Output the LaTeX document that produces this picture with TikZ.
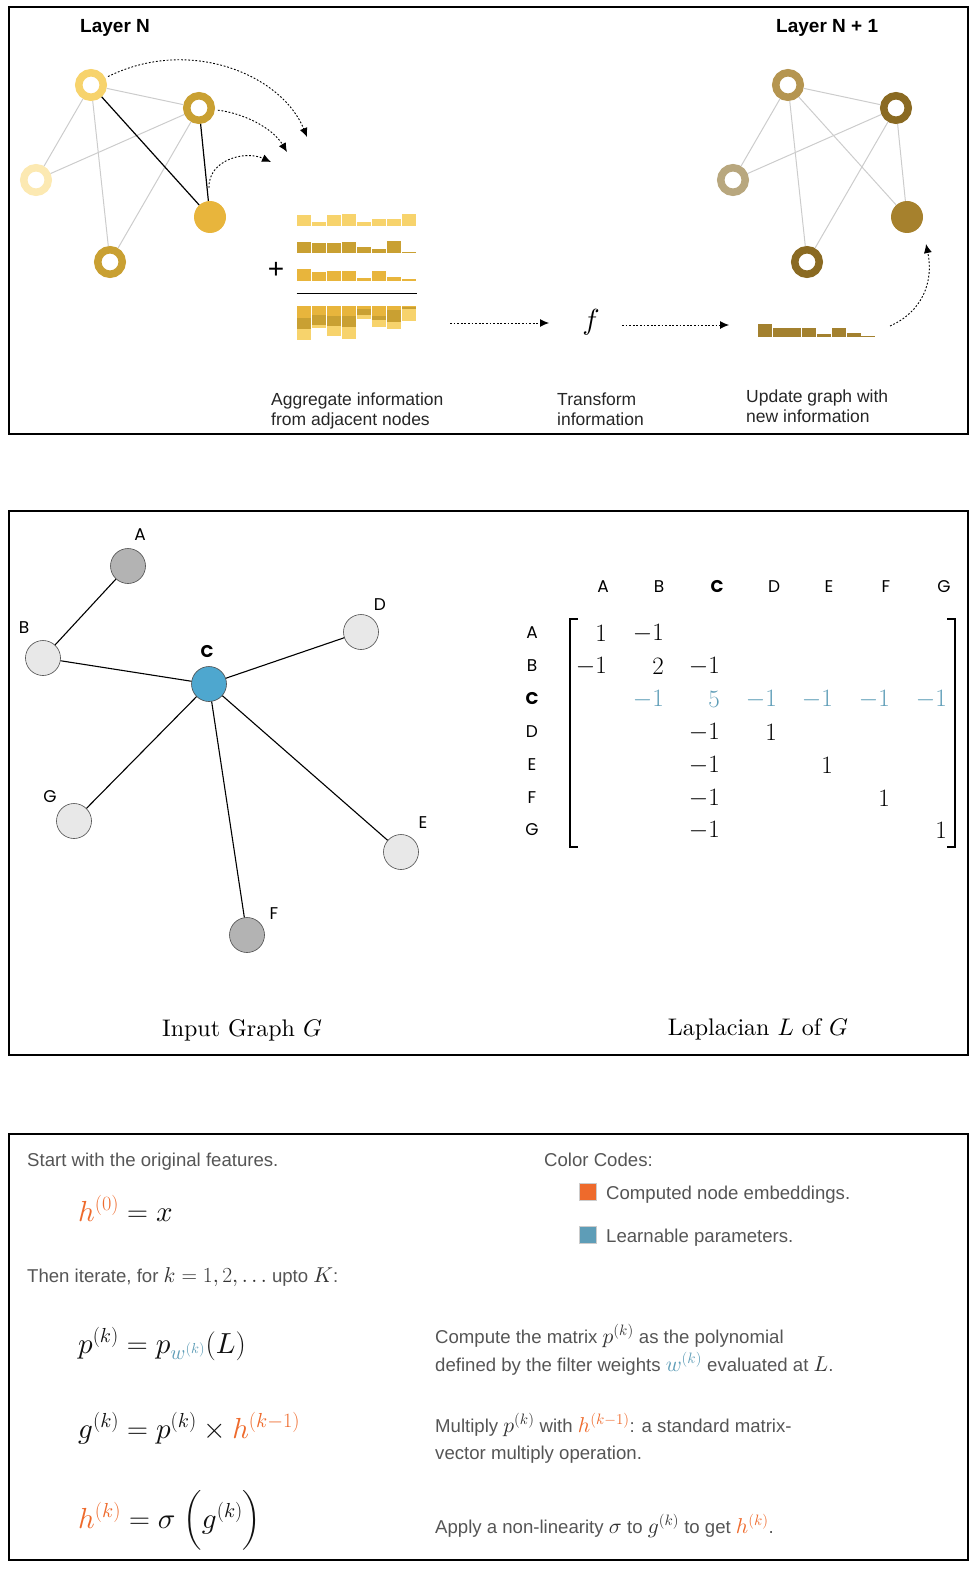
\RequirePackage{fix-cm}
\documentclass[tikz,border=0pt]{standalone}
\usepackage{amsmath}
\usepackage{fontspec}
\newfontfamily\helv{Liberation Sans}
\newfontfamily\pop{Poppins}
\newfontfamily\capfont{lmroman10-regular}[Extension=.otf, ItalicFont=lmroman10-italic]
\DeclareFontFamily{OT1}{cmrten}{}
\DeclareFontShape{OT1}{cmrten}{m}{n}{<->cmr10}{}
\DeclareSymbolFont{operators}{OT1}{cmrten}{m}{n}
\DeclareFontFamily{OML}{cmmten}{\skewchar\font127}
\DeclareFontShape{OML}{cmmten}{m}{it}{<->cmmi10}{}
\DeclareSymbolFont{letters}{OML}{cmmten}{m}{it}
\DeclareFontFamily{OMS}{cmsyten}{\skewchar\font48}
\DeclareFontShape{OMS}{cmsyten}{m}{n}{<->cmsy10}{}
\DeclareSymbolFont{symbols}{OMS}{cmsyten}{m}{n}
\usetikzlibrary{arrows.meta}
\definecolor{lightY}{HTML}{F7D36C}
\definecolor{goldD}{HTML}{C9A032}
\definecolor{paleY}{HTML}{FCE9B2}
\definecolor{goldF}{HTML}{E8B53C}
\definecolor{tanA}{HTML}{B59550}
\definecolor{brownD}{HTML}{8A6A22}
\definecolor{tanL}{HTML}{B8A77E}
\definecolor{brownF}{HTML}{A6812D}
\definecolor{ubar}{HTML}{A3812F}
\definecolor{edgeG}{HTML}{CCCCCC}
\definecolor{nodeDark}{HTML}{B3B3B3}
\definecolor{nodeLight}{HTML}{E8E8E8}
\definecolor{cblue}{HTML}{4EA7CF}
\definecolor{lblue}{HTML}{5E9DB7}
\definecolor{corange}{HTML}{EE6A2C}
\definecolor{txtgray}{HTML}{555555}
\definecolor{mathgray}{HTML}{333333}
\definecolor{eqcol}{HTML}{111111}
\newcommand{\mth}[1]{{\fontsize{21.5}{24}\selectfont\color{mathgray}$#1$}}
\begin{document}
\begin{tikzpicture}[x=1pt,y=-1pt,
  panelbox/.style={line width=1.2pt},
  ringnode/.style={circle, draw=#1, fill=white, line width=7.5pt, minimum size=24.5pt, inner sep=0pt},
  fillnode/.style={circle, fill=#1, minimum size=32pt, inner sep=0pt},
  grayedge/.style={draw=edgeG, line width=1pt},
  blackedge/.style={draw=black, line width=1.2pt},
  dotarrow/.style={draw=black, line width=0.9pt, dash pattern=on 1.8pt off 1.8pt, -{Latex[length=9pt,width=8pt]}},
  toptxt/.style={anchor=base west, inner sep=0pt, text=black!85, font=\helv\fontsize{17.5}{20}\selectfont},
  layertxt/.style={anchor=base west, inner sep=0pt, font=\helv\bfseries\fontsize{19}{22}\selectfont},
  gnode/.style={circle, draw=black!70, line width=0.6pt, minimum size=35pt, inner sep=0pt},
  gedge/.style={draw=black, line width=1.1pt},
  glabel/.style={inner sep=0pt, font=\pop\fontsize{17}{20}\selectfont},
  mnum/.style={anchor=east, inner sep=0pt, font=\fontsize{25}{30}\selectfont},
  btxt/.style={anchor=base west, inner sep=0pt, text=txtgray, font=\helv\fontsize{18.6}{22}\selectfont},
  eqn/.style={anchor=base west, inner sep=0pt, text=eqcol, font=\fontsize{29}{34}\selectfont},
  captxt/.style={anchor=base, inner sep=0pt, font=\capfont\fontsize{24}{30}\selectfont},
  legsq/.style={draw=black!20, line width=1pt, fill=#1, minimum size=17pt, inner sep=0pt}
]
\useasboundingbox (0,0) rectangle (976,1570);
% ---------------- panels
\draw[panelbox] (9,7) rectangle (968,434);
\draw[panelbox] (9,511) rectangle (968,1055);
\draw[panelbox] (9,1134) rectangle (968,1560);

% ---------------- top panel
\node[layertxt] (layN) at (80,33) {Layer N};
\node[layertxt] (layN1) at (776,33) {Layer N + 1};

\node[ringnode=lightY] (n1) at (91,85) {};
\node[ringnode=goldD] (n2) at (199,108) {};
\node[ringnode=paleY] (n3) at (36,180) {};
\node[fillnode=goldF] (n4) at (210,217) {};
\node[ringnode=goldD] (n5) at (110,262) {};
\draw[grayedge] (n1) -- (n2);
\draw[grayedge] (n1) -- (n3);
\draw[grayedge] (n1) -- (n5);
\draw[grayedge] (n2) -- (n3);
\draw[grayedge] (n2) -- (n5);
\draw[blackedge] (n1) -- (n4);
\draw[blackedge] (n2) -- (n4);

\coordinate (t1) at (307,137);
\coordinate (t2) at (287,152);
\coordinate (t3) at (271,162);
\draw[dotarrow, shorten <=3pt] (n1) .. controls (190,36) and (282,75) .. (t1);
\draw[dotarrow, shorten <=3pt] (n2) .. controls (242,113) and (272,127) .. (t2);
\draw[dotarrow, shorten <=13pt] (n4) .. controls (208,160) and (245,150) .. (t3);

% bars
\foreach \h [count=\i from 0] in {10.7,3.7,10.7,12,3.7,7,7,12}
  \fill[lightY] (296.7+15*\i,225.7) rectangle ++(14.3,-\h);
\foreach \h [count=\i from 0] in {11.3,10,10,11.3,6.3,4.7,12.3,1.3}
  \fill[goldD] (296.7+15*\i,253.3) rectangle ++(14.3,-\h);
\foreach \h [count=\i from 0] in {12,8.7,9.7,9.7,2.7,9.7,3.7,1.3}
  \fill[goldF] (296.7+15*\i,280.7) rectangle ++(14.3,-\h);
\node[inner sep=0pt, font=\helv\fontsize{28}{30}\selectfont] (plus) at (276,270) {+};
\draw[line width=1pt] (296.7,293.3) -- (417,293.3);
\foreach \a/\b/\c [count=\i from 0] in {12/11.3/10.7, 8.7/10/3.7, 9.7/10/10.7, 9.7/11.3/12, 2.7/6.3/3.7, 9.7/4.7/7, 3.7/12.3/7, 1.3/1.3/12}{
  \fill[goldF] (296.7+15*\i,306) rectangle ++(14.3,\a);
  \fill[goldD] (296.7+15*\i,306+\a) rectangle ++(14.3,\b);
  \fill[lightY] (296.7+15*\i,306+\a+\b) rectangle ++(14.3,\c);
}

\coordinate (a1s) at (450,323);
\coordinate (a1e) at (549,323);
\coordinate (a2s) at (622,325);
\coordinate (a2e) at (729,325);
\draw[dotarrow] (a1s) -- (a1e);
\draw[dotarrow] (a2s) -- (a2e);
\node[inner sep=0pt, font=\fontsize{29}{34}\selectfont] (f) at (591,322) {$f$};

\foreach \h [count=\i from 0] in {12.3,8.3,9,9,2.3,9,4,0.7}
  \fill[ubar] (757.7+14.8*\i,336.7) rectangle ++(14.1,-\h);

\node[ringnode=tanA] (m1) at (788,85) {};
\node[ringnode=brownD] (m2) at (896,108) {};
\node[ringnode=tanL] (m3) at (733,180) {};
\node[fillnode=brownF] (m4) at (907,217) {};
\node[ringnode=brownD] (m5) at (807,262) {};
\draw[grayedge] (m1) -- (m2);
\draw[grayedge] (m1) -- (m3);
\draw[grayedge] (m1) -- (m5);
\draw[grayedge] (m1) -- (m4);
\draw[grayedge] (m2) -- (m3);
\draw[grayedge] (m2) -- (m5);
\draw[grayedge] (m2) -- (m4);

\coordinate (u1) at (890,326);
\coordinate (t6) at (926,244);
\draw[dotarrow] (u1) .. controls (922,312) and (934,282) .. (t6);

\node[toptxt] (agg1) at (271,405) {Aggregate information};
\node[toptxt] (agg2) at (271,425) {from adjacent nodes};
\node[toptxt] (tr1) at (557,405) {Transform};
\node[toptxt] (tr2) at (557,425) {information};
\node[toptxt] (up1) at (746,402) {Update graph with};
\node[toptxt] (up2) at (746,422) {new information};

% ---------------- middle panel
\node[gnode, fill=nodeDark] (A) at (128,566) {};
\node[gnode, fill=nodeLight] (B) at (43,658) {};
\node[gnode, fill=cblue] (C) at (209,684) {};
\node[gnode, fill=nodeLight] (D) at (361,632) {};
\node[gnode, fill=nodeLight] (E) at (401,852) {};
\node[gnode, fill=nodeDark] (F) at (247,935) {};
\node[gnode, fill=nodeLight] (G) at (74,821) {};
\draw[gedge] (A) -- (B);
\draw[gedge] (B) -- (C);
\draw[gedge] (C) -- (D);
\draw[gedge] (C) -- (E);
\draw[gedge] (C) -- (F);
\draw[gedge] (C) -- (G);
\node[glabel] (lA) at (140,535) {A};
\node[glabel] (lB) at (24,628) {B};
\node[glabel] (lC) at (207,652) {\bfseries C};
\node[glabel] (lD) at (380,605) {D};
\node[glabel] (lE) at (423,823) {E};
\node[glabel] (lF) at (274,914) {F};
\node[glabel] (lG) at (50,797) {G};

\node[captxt] (cap1) at (242,1036) {Input Graph $G$};
\node[captxt] (cap2) at (758,1035) {Laplacian $L$ of $G$};

% matrix headers
\node[glabel] (hA) at (603,587) {A};
\node[glabel] (hB) at (659,587) {B};
\node[glabel] (hC) at (717,587) {\bfseries C};
\node[glabel] (hD) at (774,587) {D};
\node[glabel] (hE) at (829,587) {E};
\node[glabel] (hF) at (886,587) {F};
\node[glabel] (hG) at (944,587) {G};
\node[glabel] (rA) at (532,633) {A};
\node[glabel] (rB) at (532,666) {B};
\node[glabel] (rC) at (532,699) {\bfseries C};
\node[glabel] (rD) at (532,732) {D};
\node[glabel] (rE) at (532,765) {E};
\node[glabel] (rF) at (532,798) {F};
\node[glabel] (rG) at (532,830) {G};
% brackets
\draw[line width=1.6pt] (578,619) -- (570,619) -- (570,847) -- (578,847);
\draw[line width=1.6pt] (947,619) -- (955,619) -- (955,847) -- (947,847);
% entries
\node[mnum] at (607,633) {$1$};
\node[mnum] at (664,633) {$-1$};
\node[mnum] at (607,666) {$-1$};
\node[mnum] at (664,666) {$2$};
\node[mnum] at (720,666) {$-1$};
\node[mnum, text=lblue] at (664,699) {$-1$};
\node[mnum, text=lblue] at (720,699) {$5$};
\node[mnum, text=lblue] at (777,699) {$-1$};
\node[mnum, text=lblue] at (833,699) {$-1$};
\node[mnum, text=lblue] at (890,699) {$-1$};
\node[mnum, text=lblue] at (947,699) {$-1$};
\node[mnum] at (720,732) {$-1$};
\node[mnum] at (777,732) {$1$};
\node[mnum] at (720,765) {$-1$};
\node[mnum] at (833,765) {$1$};
\node[mnum] at (720,798) {$-1$};
\node[mnum] at (890,798) {$1$};
\node[mnum] at (720,830) {$-1$};
\node[mnum] at (947,830) {$1$};

% ---------------- bottom panel
\node[btxt] (s1) at (27,1166) {Start with the original features.};
\node[eqn] (e0) at (78,1221) {$\textcolor{corange}{h^{(0)}} = x$};
\node[btxt] (s2) at (27,1282) {Then iterate, for \mth{k = 1, 2, \ldots} upto \mth{K}:};
\node[eqn] (e1) at (78,1353) {$p^{(k)} = p_{\textcolor{lblue}{w^{(k)}}}(L)$};
\node[eqn] (e2) at (78,1438) {$g^{(k)} = p^{(k)} \times \textcolor{corange}{h^{(k-1)}}$};
\node[eqn] (e3) at (78,1528) {$\textcolor{corange}{h^{(k)}} = \sigma\;\Bigl(g^{(k)}\Bigr)$};

\node[btxt] (cc) at (544,1166) {Color Codes:};
\node[legsq=corange] (sqO) at (588,1192) {};
\node[legsq=lblue] (sqB) at (588,1235) {};
\node[btxt] (lg1) at (606,1199) {Computed node embeddings.};
\node[btxt] (lg2) at (606,1242) {Learnable parameters.};

\node[btxt] (d1) at (435,1343) {Compute the matrix \mth{p^{(k)}} as the polynomial};
\node[btxt] (d2) at (435,1371) {defined by the filter weights \mth{\textcolor{lblue}{w^{(k)}}} evaluated at \mth{L}.};
\node[btxt] (d3) at (435,1432) {Multiply \mth{p^{(k)}} with \mth{\textcolor{corange}{h^{(k-1)}}}: a standard matrix-};
\node[btxt] (d4) at (435,1459) {vector multiply operation.};
\node[btxt] (d5) at (435,1533) {Apply a non-linearity \mth{\sigma} to \mth{g^{(k)}} to get \mth{\textcolor{corange}{h^{(k)}}}.};
\end{tikzpicture}
\end{document}
